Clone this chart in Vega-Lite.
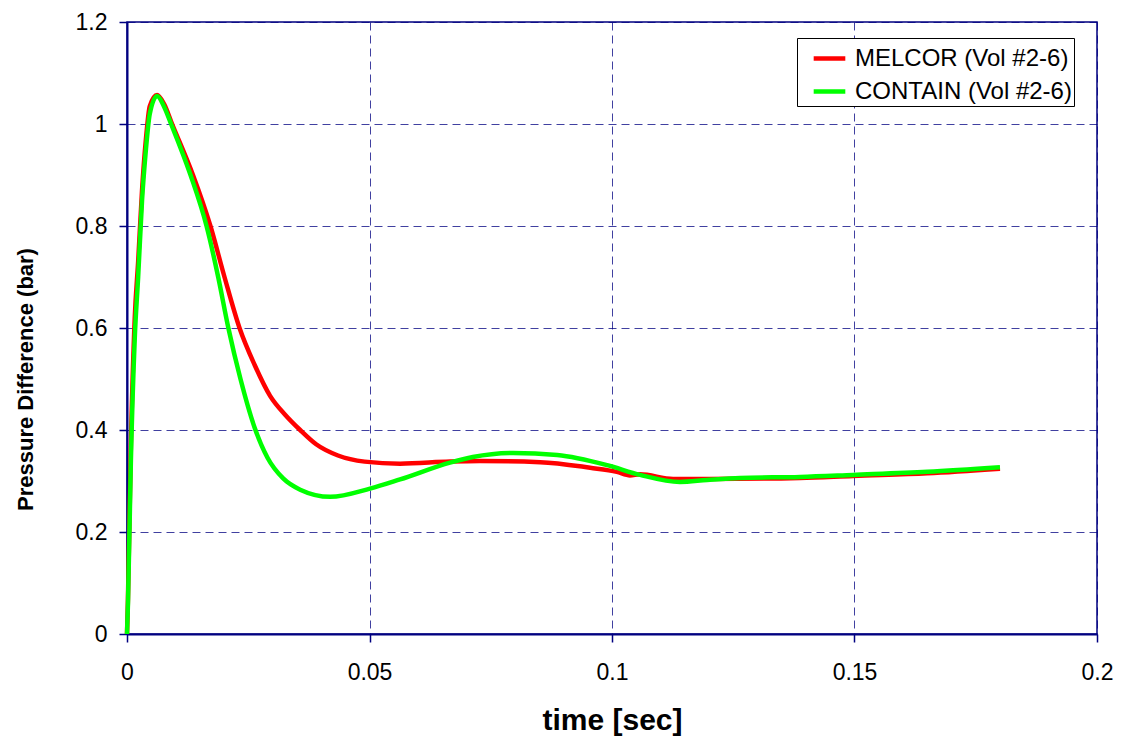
{
  "$schema": "https://vega.github.io/schema/vega-lite/v6.json",
  "width": 970,
  "height": 612,
  "autosize": {"type": "none"},
  "padding": {"left": 127, "top": 22, "right": 25, "bottom": 108},
  "background": "white",
  "config": {
    "view": {"stroke": "#000080", "strokeWidth": 1.5},
    "font": "Liberation Sans"
  },
  "data": {
    "values": [
      {"t": 0, "p": 0, "s": "MELCOR (Vol #2-6)"},
      {"t": 0.0002, "p": 0.07, "s": "MELCOR (Vol #2-6)"},
      {"t": 0.0008, "p": 0.37, "s": "MELCOR (Vol #2-6)"},
      {"t": 0.0016, "p": 0.62, "s": "MELCOR (Vol #2-6)"},
      {"t": 0.0023, "p": 0.73, "s": "MELCOR (Vol #2-6)"},
      {"t": 0.0031, "p": 0.87, "s": "MELCOR (Vol #2-6)"},
      {"t": 0.0039, "p": 0.97, "s": "MELCOR (Vol #2-6)"},
      {"t": 0.0047, "p": 1.035, "s": "MELCOR (Vol #2-6)"},
      {"t": 0.0062, "p": 1.057, "s": "MELCOR (Vol #2-6)"},
      {"t": 0.0076, "p": 1.04, "s": "MELCOR (Vol #2-6)"},
      {"t": 0.0093, "p": 1.0, "s": "MELCOR (Vol #2-6)"},
      {"t": 0.0136, "p": 0.9, "s": "MELCOR (Vol #2-6)"},
      {"t": 0.0172, "p": 0.8, "s": "MELCOR (Vol #2-6)"},
      {"t": 0.0201, "p": 0.7, "s": "MELCOR (Vol #2-6)"},
      {"t": 0.0232, "p": 0.6, "s": "MELCOR (Vol #2-6)"},
      {"t": 0.0263, "p": 0.528, "s": "MELCOR (Vol #2-6)"},
      {"t": 0.0295, "p": 0.467, "s": "MELCOR (Vol #2-6)"},
      {"t": 0.0326, "p": 0.43, "s": "MELCOR (Vol #2-6)"},
      {"t": 0.0357, "p": 0.4, "s": "MELCOR (Vol #2-6)"},
      {"t": 0.039, "p": 0.372, "s": "MELCOR (Vol #2-6)"},
      {"t": 0.0435, "p": 0.35, "s": "MELCOR (Vol #2-6)"},
      {"t": 0.049, "p": 0.338, "s": "MELCOR (Vol #2-6)"},
      {"t": 0.0563, "p": 0.334, "s": "MELCOR (Vol #2-6)"},
      {"t": 0.0666, "p": 0.338, "s": "MELCOR (Vol #2-6)"},
      {"t": 0.0728, "p": 0.339, "s": "MELCOR (Vol #2-6)"},
      {"t": 0.0852, "p": 0.337, "s": "MELCOR (Vol #2-6)"},
      {"t": 0.0955, "p": 0.326, "s": "MELCOR (Vol #2-6)"},
      {"t": 0.101, "p": 0.318, "s": "MELCOR (Vol #2-6)"},
      {"t": 0.1037, "p": 0.311, "s": "MELCOR (Vol #2-6)"},
      {"t": 0.1058, "p": 0.313, "s": "MELCOR (Vol #2-6)"},
      {"t": 0.1126, "p": 0.304, "s": "MELCOR (Vol #2-6)"},
      {"t": 0.12, "p": 0.304, "s": "MELCOR (Vol #2-6)"},
      {"t": 0.1388, "p": 0.306, "s": "MELCOR (Vol #2-6)"},
      {"t": 0.1497, "p": 0.31, "s": "MELCOR (Vol #2-6)"},
      {"t": 0.165, "p": 0.315, "s": "MELCOR (Vol #2-6)"},
      {"t": 0.18, "p": 0.324, "s": "MELCOR (Vol #2-6)"},
      {"t": 0, "p": 0, "s": "CONTAIN (Vol #2-6)"},
      {"t": 0.0002, "p": 0.06, "s": "CONTAIN (Vol #2-6)"},
      {"t": 0.0008, "p": 0.34, "s": "CONTAIN (Vol #2-6)"},
      {"t": 0.0016, "p": 0.58, "s": "CONTAIN (Vol #2-6)"},
      {"t": 0.0023, "p": 0.7, "s": "CONTAIN (Vol #2-6)"},
      {"t": 0.0031, "p": 0.85, "s": "CONTAIN (Vol #2-6)"},
      {"t": 0.0039, "p": 0.95, "s": "CONTAIN (Vol #2-6)"},
      {"t": 0.0047, "p": 1.02, "s": "CONTAIN (Vol #2-6)"},
      {"t": 0.0062, "p": 1.055, "s": "CONTAIN (Vol #2-6)"},
      {"t": 0.0076, "p": 1.035, "s": "CONTAIN (Vol #2-6)"},
      {"t": 0.0091, "p": 1.0, "s": "CONTAIN (Vol #2-6)"},
      {"t": 0.0131, "p": 0.9, "s": "CONTAIN (Vol #2-6)"},
      {"t": 0.0164, "p": 0.8, "s": "CONTAIN (Vol #2-6)"},
      {"t": 0.0188, "p": 0.7, "s": "CONTAIN (Vol #2-6)"},
      {"t": 0.0209, "p": 0.6, "s": "CONTAIN (Vol #2-6)"},
      {"t": 0.0234, "p": 0.5, "s": "CONTAIN (Vol #2-6)"},
      {"t": 0.0263, "p": 0.405, "s": "CONTAIN (Vol #2-6)"},
      {"t": 0.029, "p": 0.345, "s": "CONTAIN (Vol #2-6)"},
      {"t": 0.0322, "p": 0.305, "s": "CONTAIN (Vol #2-6)"},
      {"t": 0.0357, "p": 0.283, "s": "CONTAIN (Vol #2-6)"},
      {"t": 0.0419, "p": 0.269, "s": "CONTAIN (Vol #2-6)"},
      {"t": 0.0501, "p": 0.285, "s": "CONTAIN (Vol #2-6)"},
      {"t": 0.0563, "p": 0.303, "s": "CONTAIN (Vol #2-6)"},
      {"t": 0.0666, "p": 0.336, "s": "CONTAIN (Vol #2-6)"},
      {"t": 0.0713, "p": 0.347, "s": "CONTAIN (Vol #2-6)"},
      {"t": 0.0796, "p": 0.355, "s": "CONTAIN (Vol #2-6)"},
      {"t": 0.0887, "p": 0.351, "s": "CONTAIN (Vol #2-6)"},
      {"t": 0.099, "p": 0.331, "s": "CONTAIN (Vol #2-6)"},
      {"t": 0.1058, "p": 0.312, "s": "CONTAIN (Vol #2-6)"},
      {"t": 0.114, "p": 0.298, "s": "CONTAIN (Vol #2-6)"},
      {"t": 0.1196, "p": 0.302, "s": "CONTAIN (Vol #2-6)"},
      {"t": 0.1264, "p": 0.306, "s": "CONTAIN (Vol #2-6)"},
      {"t": 0.1388, "p": 0.308, "s": "CONTAIN (Vol #2-6)"},
      {"t": 0.1497, "p": 0.312, "s": "CONTAIN (Vol #2-6)"},
      {"t": 0.165, "p": 0.318, "s": "CONTAIN (Vol #2-6)"},
      {"t": 0.18, "p": 0.327, "s": "CONTAIN (Vol #2-6)"}
    ]
  },
  "encoding": {
    "x": {
      "field": "t", "type": "quantitative",
      "scale": {"domain": [0, 0.2], "nice": false, "zero": false},
      "axis": {
        "values": [0, 0.05, 0.1, 0.15, 0.2],
        "format": "~g",
        "labelFlush": false,
        "labelOverlap": false,
        "title": "time [sec]",
        "titleFont": "Liberation Sans", "titleFontSize": 30, "titleFontWeight": "bold", "titleColor": "black",
        "titleBaseline": "alphabetic", "titleY": 95,
        "labelFont": "Liberation Sans", "labelFontSize": 23, "labelColor": "black", "labelPadding": 19,
        "domainColor": "#000080", "domainWidth": 2,
        "tickColor": "#000080", "tickSize": 8, "tickWidth": 1.5,
        "grid": true, "gridColor": "#000080", "gridOpacity": 0.75, "gridDash": [8, 5], "gridWidth": 1
      }
    },
    "y": {
      "field": "p", "type": "quantitative",
      "scale": {"domain": [0, 1.2], "nice": false},
      "axis": {
        "values": [0, 0.2, 0.4, 0.6, 0.8, 1, 1.2],
        "format": "~g",
        "labelFlush": false,
        "labelOverlap": false,
        "title": "Pressure Difference (bar)",
        "titleFont": "Liberation Sans", "titleFontSize": 22, "titleFontWeight": "bold", "titleColor": "black",
        "titleBaseline": "alphabetic", "titleX": -95, "titleY": 357,
        "labelFont": "Liberation Sans", "labelFontSize": 23, "labelColor": "black", "labelPadding": 12,
        "domainColor": "#000080", "domainWidth": 2,
        "tickColor": "#000080", "tickSize": 8, "tickWidth": 1.5,
        "grid": true, "gridColor": "#000080", "gridOpacity": 0.75, "gridDash": [8, 5], "gridWidth": 1
      }
    },
    "color": {
      "field": "s", "type": "nominal",
      "scale": {"domain": ["MELCOR (Vol #2-6)", "CONTAIN (Vol #2-6)"], "range": ["#ff0000", "#00ff00"]},
      "legend": {
        "title": null,
        "orient": "none",
        "legendX": 670,
        "legendY": 16,
        "symbolType": "stroke",
        "symbolSize": 1000,
        "symbolStrokeWidth": 4.5,
        "symbolOffset": 12,
        "labelFont": "Liberation Sans",
        "labelFontSize": 24,
        "labelColor": "black",
        "labelOffset": 7,
        "labelLimit": 400,
        "labelExpr": "datum.label + '\u2002\u2009'",
        "rowPadding": 2,
        "padding": 2,
        "strokeColor": "black",
        "fillColor": "white"
      }
    }
  },
  "layer": [
    {
      "transform": [{"filter": "datum.s === 'MELCOR (Vol #2-6)'"}],
      "mark": {"type": "line", "strokeWidth": 4.5, "interpolate": "monotone"}
    },
    {
      "transform": [{"filter": "datum.s === 'CONTAIN (Vol #2-6)'"}],
      "mark": {"type": "line", "strokeWidth": 4.5, "interpolate": "monotone"}
    }
  ]
}
